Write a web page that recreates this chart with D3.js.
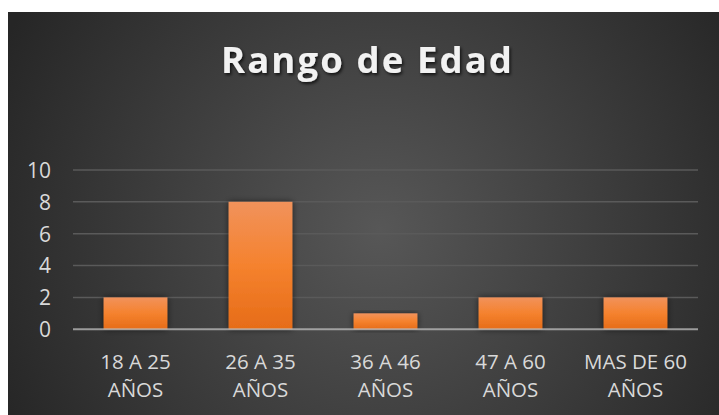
<!DOCTYPE html>
<html><head><meta charset="utf-8">
<script src="https://cdn.jsdelivr.net/npm/d3@7"></script>
<style>html,body{margin:0;padding:0;background:#fff;}svg{display:block;}</style>
</head><body>
<script>
const categories = [["18 A 25","AÑOS"],["26 A 35","AÑOS"],["36 A 46","AÑOS"],["47 A 60","AÑOS"],["MAS DE 60","AÑOS"]];
const values = [2, 8, 1, 2, 2];
const yTicks = [0, 2, 4, 6, 8, 10];
const title = "Rango de Edad";

const W = 719, H = 415;
const svg = d3.select("body").append("svg").attr("width", W).attr("height", H);
const defs = svg.append("defs");
const rg = defs.append("radialGradient").attr("id","bg").attr("gradientUnits","userSpaceOnUse")
  .attr("cx", 380).attr("cy", 230).attr("r", 420);
rg.append("stop").attr("offset","0%").attr("stop-color","#575757");
rg.append("stop").attr("offset","100%").attr("stop-color","#262626");
const bg = defs.append("linearGradient").attr("id","bar").attr("x1",0).attr("y1",0).attr("x2",0).attr("y2",1);
bg.append("stop").attr("offset","0%").attr("stop-color","#F1925B");
bg.append("stop").attr("offset","50%").attr("stop-color","#F5822E");
bg.append("stop").attr("offset","100%").attr("stop-color","#E66C18");
const sh = defs.append("filter").attr("id","sh").attr("x","-20%").attr("y","-20%").attr("width","140%").attr("height","140%");
sh.append("feDropShadow").attr("dx",0).attr("dy",0).attr("stdDeviation",3).attr("flood-color","#000").attr("flood-opacity",0.6);
const tsh = defs.append("filter").attr("id","tsh").attr("x","-10%").attr("y","-30%").attr("width","120%").attr("height","160%");
tsh.append("feDropShadow").attr("dx",1.5).attr("dy",2).attr("stdDeviation",1.5).attr("flood-color","#000").attr("flood-opacity",0.7);

svg.append("rect").attr("x",8).attr("y",12).attr("width",W-8).attr("height",H-12).attr("fill","url(#bg)");

const x = d3.scaleBand().domain(d3.range(values.length)).range([73, 698]).paddingInner(0.49).paddingOuter(0.245);
const y = d3.scaleLinear().domain([0, 10]).range([329.3, 170]);

// gridlines
svg.append("g").selectAll("line").data(yTicks.filter(d => d > 0)).join("line")
  .attr("x1", 73).attr("x2", 698).attr("y1", d => y(d)).attr("y2", d => y(d))
  .attr("stroke", "#5a5a5a").attr("stroke-width", 1.5);

// y axis labels
const yAxis = d3.axisLeft(y).tickValues(yTicks).tickSize(0).tickPadding(0);
const ya = svg.append("g").attr("transform","translate(51,0)").call(yAxis);
ya.select(".domain").remove();
ya.selectAll("text").attr("fill","#d9d9d9").style("font-family","'Open Sans', sans-serif").style("font-size","21px").attr("dy","0.35em");

// bars
svg.append("g").selectAll("rect").data(values).join("rect")
  .attr("x", (d,i) => x(i)).attr("width", x.bandwidth())
  .attr("y", d => y(d)).attr("height", d => y(0) - y(d))
  .attr("fill","url(#bar)").attr("filter","url(#sh)");

// axis line
svg.append("line").attr("x1",73).attr("x2",698).attr("y1",y(0)).attr("y2",y(0))
  .attr("stroke","#bfbfbf").attr("stroke-opacity",0.75).attr("stroke-width",2);

// category labels
const cg = svg.append("g").selectAll("text").data(categories).join("text")
  .attr("x", (d,i) => x(i) + x.bandwidth()/2).attr("y", 369)
  .attr("text-anchor","middle").attr("fill","#d9d9d9")
  .style("font-family","'Open Sans', sans-serif").style("font-size","20.5px");
cg.selectAll("tspan").data(d => d).join("tspan")
  .attr("x", function(){ return this.parentNode.getAttribute("x"); })
  .attr("dy", (d,i) => i === 0 ? 0 : 28).text(d => d);

// title
svg.append("text").attr("x", 367.5).attr("y", 73).attr("text-anchor","middle")
  .attr("fill","#f2f2f2").style("font-family","'Open Sans', sans-serif").style("font-weight","bold")
  .style("font-size","36.5px").style("letter-spacing","2.1px").attr("filter","url(#tsh)").text(title);
</script>
</body></html>
